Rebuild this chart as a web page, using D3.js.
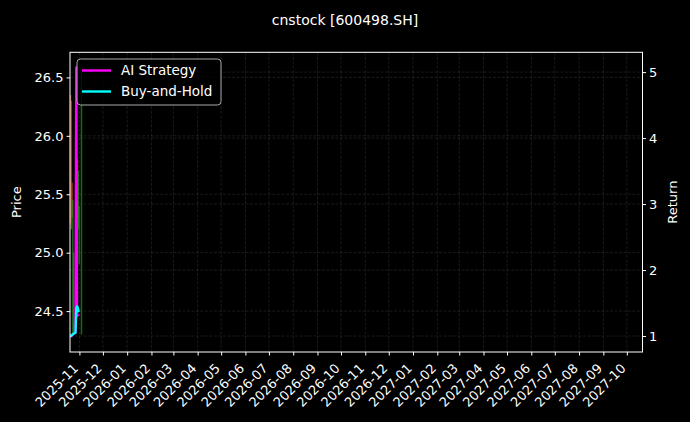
<!DOCTYPE html>
<html>
<head>
<meta charset="utf-8">
<script src="https://cdn.jsdelivr.net/npm/d3@7"></script>
<style>
  html, body { margin: 0; padding: 0; background: #000; }
  svg { display: block; font-family: "DejaVu Sans", sans-serif; }
</style>
</head>
<body>
<svg width="690" height="422"></svg>
<script>
// trading days shown on the chart
const dates = ["2025-10-20", "2025-10-21", "2025-10-22", "2025-10-23", "2025-10-24",
  "2025-10-27", "2025-10-28", "2025-10-29", "2025-10-30", "2025-10-31", "2025-11-03"];

// daily price range (left axis)
const priceOpen = [25.35, 25.30, 25.35, 25.45, 25.00, 24.60, 24.90, 25.40, 25.60, 25.30, 26.40];
const priceClose = [26.25, 26.20, 25.55, 24.40, 24.40, 24.90, 25.40, 25.60, 25.30, 25.00, 24.40];
const priceHigh = [26.35, 26.30, 25.60, 25.45, 25.00, 25.10, 25.50, 25.80, 25.70, 25.40, 26.55];
const priceLow = [25.25, 25.20, 25.30, 24.30, 24.30, 24.50, 24.80, 25.30, 25.20, 24.90, 24.30];

// cumulative returns (right axis)
const aiStrategy = [1.00, 1.00, 1.00, 1.02, 1.03, 1.05, 5.07, 1.30, 1.32, 1.30, null];
const buyHold = [1.00, 1.00, 1.01, 1.02, 1.03, 1.05, 1.42, 1.45, 1.43, 1.36, null];

const xStart = "2025-10-20";
const xEnd = "2027-10-21";
const priceTicks = [24.5, 25.0, 25.5, 26.0, 26.5];
const returnTicks = [1, 2, 3, 4, 5];

const parse = d3.timeParse("%Y-%m-%d");
const mLeft = 70, mRight = 642.5, mTop = 52.3, mBottom = 352;
const svg = d3.select("svg");

const x = d3.scaleTime().domain([parse(xStart), parse(xEnd)]).range([mLeft, mRight]);
const yPrice = d3.scaleLinear().domain([24.15, 26.715]).range([mBottom, mTop]);
const yRet = d3.scaleLinear().domain([0.758, 5.30]).range([mBottom, mTop]);

const monthTicks = d3.timeMonth.range(parse("2025-11-01"), parse("2027-10-02"));

// grid lines
const grid = svg.append("g")
  .attr("stroke", "#888").attr("stroke-opacity", 0.32)
  .attr("stroke-width", 0.6).attr("stroke-dasharray", "3,1.5");
grid.selectAll(".gx").data(monthTicks).enter().append("line")
  .attr("x1", d => x(d)).attr("x2", d => x(d)).attr("y1", mTop).attr("y2", mBottom);
grid.selectAll(".gp").data(priceTicks).enter().append("line")
  .attr("x1", mLeft).attr("x2", mRight).attr("y1", d => yPrice(d)).attr("y2", d => yPrice(d));
grid.selectAll(".gr").data(returnTicks).enter().append("line")
  .attr("x1", mLeft).attr("x2", mRight).attr("y1", d => yRet(d)).attr("y2", d => yRet(d));

// price bars
const candles = dates.map((d, i) => ({
  date: parse(d), open: priceOpen[i], close: priceClose[i], high: priceHigh[i], low: priceLow[i]
}));
svg.append("g").selectAll("line").data(candles).enter().append("line")
  .attr("x1", d => x(d.date) + 0.5).attr("x2", d => x(d.date) + 0.5)
  .attr("y1", d => yPrice(d.high)).attr("y2", d => yPrice(d.low))
  .attr("stroke", d => d.close >= d.open ? "#c0501a" : "#1f9a1f")
  .attr("stroke-opacity", 0.7).attr("stroke-width", 1.5);

// return lines
const line = d3.line()
  .defined(d => d.v != null)
  .x(d => x(d.date)).y(d => yRet(d.v));
const series = [
  { name: "AI Strategy", color: "#ff00ff", values: aiStrategy },
  { name: "Buy-and-Hold", color: "#00ffff", values: buyHold }
];
series.forEach(s => {
  svg.append("path")
    .datum(dates.map((d, i) => ({ date: parse(d), v: s.values[i] })))
    .attr("fill", "none").attr("stroke", s.color).attr("stroke-width", 2.4)
    .attr("stroke-linejoin", "round")
    .attr("d", line);
});

// frame
svg.append("rect").attr("x", mLeft).attr("y", mTop)
  .attr("width", mRight - mLeft).attr("height", mBottom - mTop)
  .attr("fill", "none").attr("stroke", "#fff").attr("stroke-width", 1);

// axes
const xAxis = svg.append("g").attr("transform", `translate(0,${mBottom})`)
  .call(d3.axisBottom(x).tickValues(monthTicks).tickFormat(d3.timeFormat("%Y-%m")).tickSizeOuter(0).tickSize(3.5));
xAxis.selectAll("text")
  .attr("x", 0).attr("y", 0)
  .attr("text-anchor", "end")
  .attr("dy", "0.35em")
  .attr("transform", "translate(-4,14) rotate(-45)");

const yAxisL = svg.append("g").attr("transform", `translate(${mLeft},0)`)
  .call(d3.axisLeft(yPrice).tickValues(priceTicks).tickFormat(d3.format(".1f")).tickSizeOuter(0).tickSize(3.5));
const yAxisR = svg.append("g").attr("transform", `translate(${mRight},0)`)
  .call(d3.axisRight(yRet).tickValues(returnTicks).tickFormat(d3.format("d")).tickSizeOuter(0).tickSize(3.5));

[xAxis, yAxisL, yAxisR].forEach(a => {
  a.select(".domain").remove();
  a.selectAll("line").attr("stroke", "#fff");
  a.selectAll("text").attr("fill", "#fff").style("font-size", "13px").style("font-family", "DejaVu Sans");
});

// labels
svg.append("text").attr("x", 345).attr("y", 25).attr("text-anchor", "middle")
  .attr("fill", "#fff").style("font-size", "14px").text("cnstock [600498.SH]");
svg.append("text").attr("transform", `translate(21,${(mTop + mBottom) / 2}) rotate(-90)`)
  .attr("text-anchor", "middle").attr("fill", "#fff").style("font-size", "13px").text("Price");
svg.append("text").attr("transform", `translate(677,${(mTop + mBottom) / 2}) rotate(-90)`)
  .attr("text-anchor", "middle").attr("fill", "#fff").style("font-size", "13px").text("Return");

// legend
const lg = svg.append("g").attr("transform", "translate(77,59)");
lg.append("rect").attr("width", 144).attr("height", 46).attr("rx", 3.5)
  .attr("fill", "#000").attr("fill-opacity", 0.8).attr("stroke", "#aaa").attr("stroke-width", 1);
series.forEach((s, i) => {
  const yy = 11.5 + i * 21;
  lg.append("line").attr("x1", 5).attr("x2", 34).attr("y1", yy).attr("y2", yy)
    .attr("stroke", s.color).attr("stroke-width", 2.4);
  lg.append("text").attr("x", 44).attr("y", yy).attr("dy", "0.35em")
    .attr("fill", "#fff").style("font-size", "13.5px").text(s.name);
});
</script>
</body>
</html>
